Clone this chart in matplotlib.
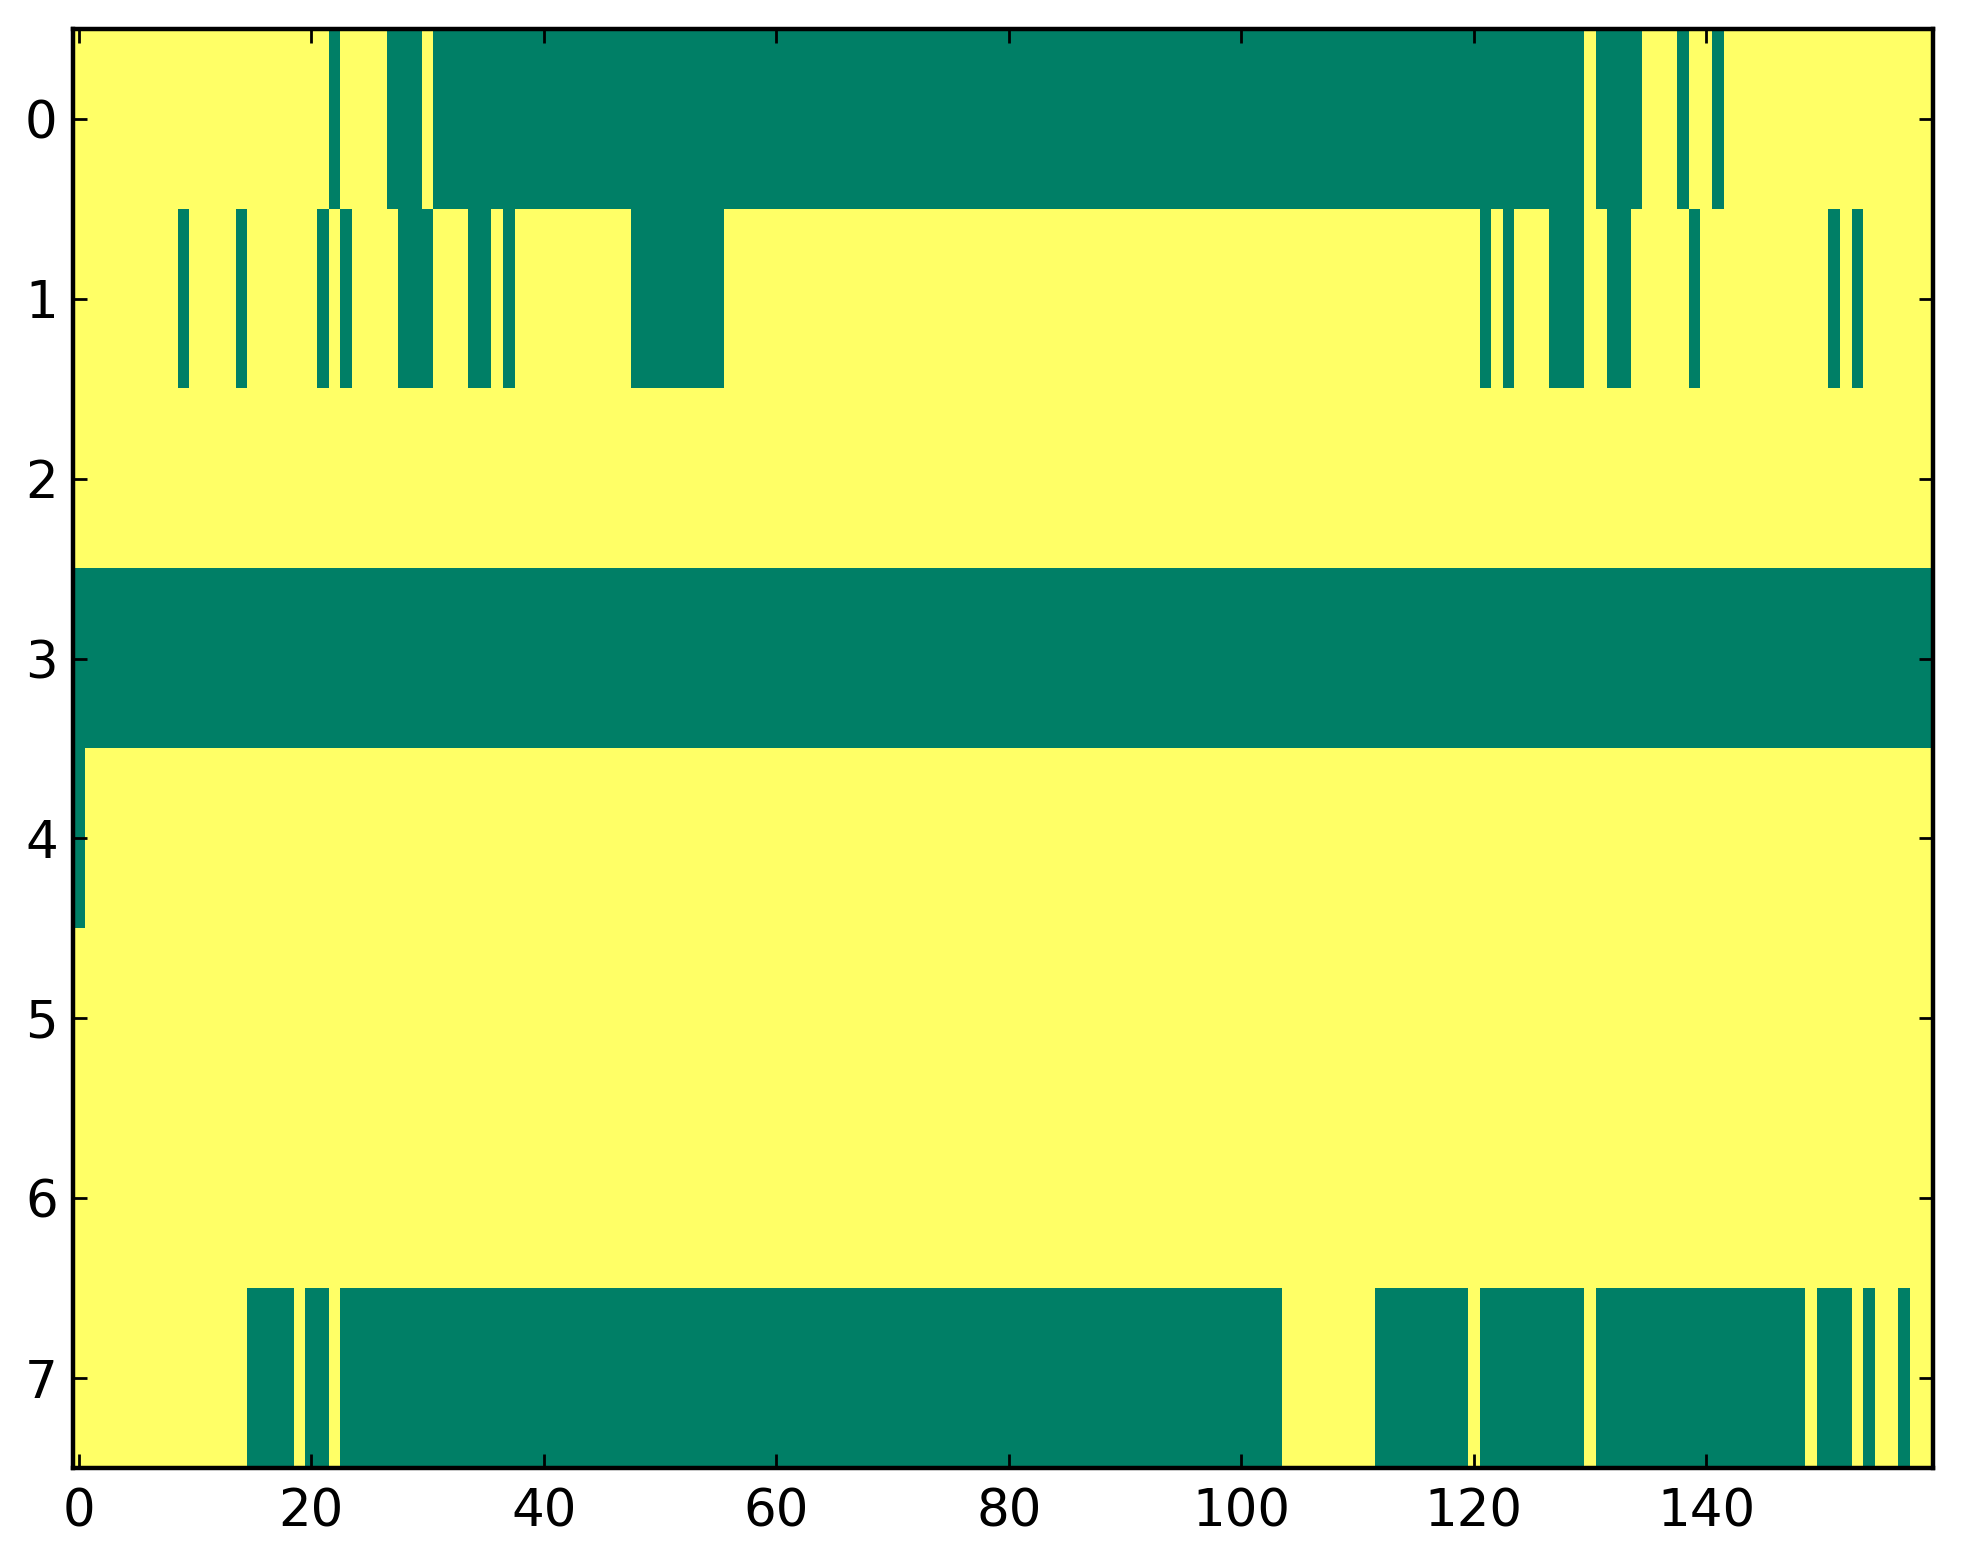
#!/usr/bin/env python3
"""Binary occupancy grid: 8 rows x 160 columns, drawn with the summer colormap."""

import matplotlib

matplotlib.use("Agg")
import matplotlib.pyplot as plt
import numpy as np

n_cols = 160
row_labels = list(range(8))
x_ticks = [0, 20, 40, 60, 80, 100, 120, 140]

# inclusive (start, end) column runs that are "off" (green) in each row
runs_row0 = [(22, 22), (27, 29), (31, 129), (131, 134), (138, 138), (141, 141)]
runs_row1 = [(9, 9), (14, 14), (21, 21), (23, 23), (28, 30), (34, 35), (37, 37),
             (48, 55), (121, 121), (123, 123), (127, 129), (132, 133), (139, 139),
             (151, 151), (153, 153)]
runs_row2 = []
runs_row3 = [(0, 159)]
runs_row4 = [(0, 0)]
runs_row5 = []
runs_row6 = []
runs_row7 = [(15, 18), (20, 21), (23, 103), (112, 119), (121, 129), (131, 148),
             (150, 152), (154, 154), (157, 157)]

all_runs = [runs_row0, runs_row1, runs_row2, runs_row3,
            runs_row4, runs_row5, runs_row6, runs_row7]


def build_grid(runs_per_row, width):
    grid = np.ones((len(runs_per_row), width))
    for r, runs in enumerate(runs_per_row):
        for start, end in runs:
            grid[r, start:end + 1] = 0
    return grid


def main():
    grid = build_grid(all_runs, n_cols)

    W, H, dpi = 1963, 1564, 200
    fig = plt.figure(figsize=(W / dpi, H / dpi), dpi=dpi)
    left, right, top, bottom = 73, 1933, 29, 1468
    ax = fig.add_axes([left / W, 1 - bottom / H, (right - left) / W, (bottom - top) / H])

    ax.imshow(grid, cmap="summer", vmin=0, vmax=1, aspect="auto",
              interpolation="nearest")
    ax.set_xlim(-0.5, n_cols - 0.5)
    ax.set_ylim(len(row_labels) - 0.5, -0.5)
    ax.set_xticks(x_ticks)
    ax.set_yticks(row_labels)

    ax.tick_params(direction="in", top=True, right=True, length=5, width=1.0,
                   labelsize=18.5, colors="black")
    ax.tick_params(axis="x", pad=7)
    ax.tick_params(axis="y", pad=5.5)
    for spine in ax.spines.values():
        spine.set_linewidth(1.6)
        spine.set_color("black")

    fig.savefig("out.png", dpi=dpi)
    plt.close(fig)


if __name__ == "__main__":
    main()
